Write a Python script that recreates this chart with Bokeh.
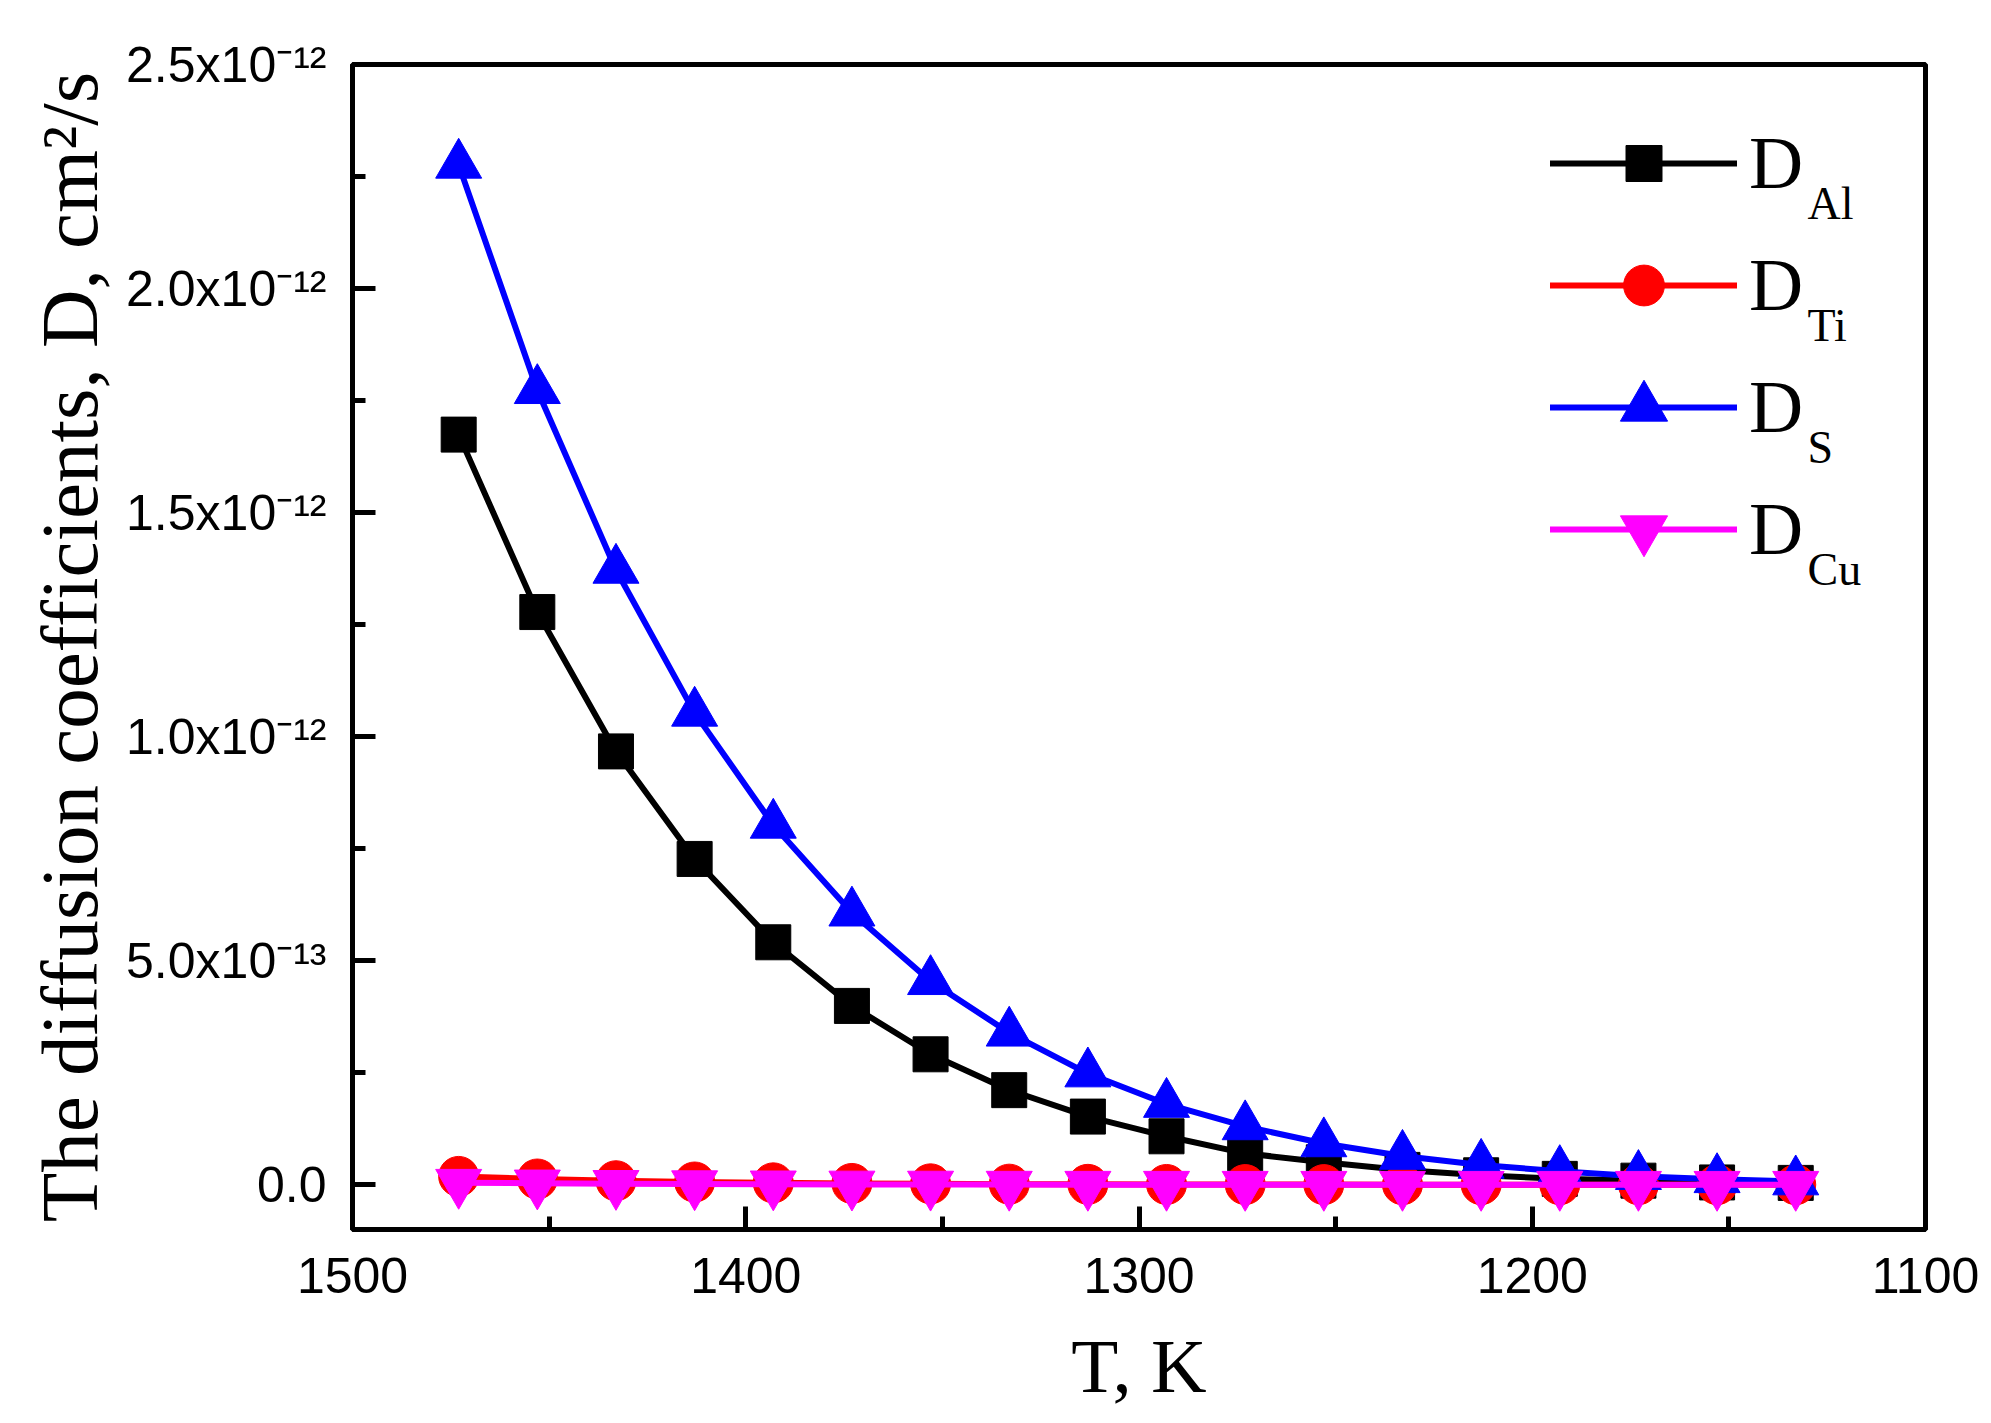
from bokeh.plotting import figure
from bokeh.models import Range1d, FixedTicker, Label, Legend, LegendItem, CustomJSTickFormatter
from bokeh.embed import file_html
from bokeh.resources import INLINE

# ---- data ----
T = [1473, 1453, 1433, 1413, 1393, 1373, 1353, 1333, 1313,
     1293, 1273, 1253, 1233, 1213, 1193, 1173, 1153, 1133]
E = 1e-12
D_Al = [1.674, 1.278, 0.967, 0.727, 0.541, 0.399, 0.291, 0.211, 0.152,
        0.108, 0.070, 0.050, 0.033, 0.021, 0.013, 0.009, 0.005, 0.004]
D_Ti = [0.0185, 0.0127, 0.0088, 0.0060, 0.0041, 0.0028, 0.0019, 0.0012, 0.0008,
        0.0005, 0.0003, 0.0002, 0.0001, 0.0001, 0.0, 0.0, 0.0, 0.0]
D_S = [2.276, 1.773, 1.372, 1.053, 0.803, 0.607, 0.454, 0.339, 0.248,
       0.180, 0.130, 0.092, 0.064, 0.044, 0.030, 0.019, 0.012, 0.007]
D_Cu = [0.0045, 0.0030, 0.0020, 0.0013, 0.0009, 0.0006, 0.0004, 0.0002, 0.0001,
        0.0001, 0.0, 0.0, 0.0, 0.0, 0.0, 0.0, 0.0, 0.0]

series_names = ["Al", "Ti", "S", "Cu"]
series_values = [D_Al, D_Ti, D_S, D_Cu]
series_colors = ["#000000", "#FF0000", "#0000FF", "#FF00FF"]
series_markers = ["square", "circle", "triangle", "inverted_triangle"]
series_sizes = [35, 40, 46, 46]

x_ticks = [1500, 1400, 1300, 1200, 1100]
x_minor = [1450, 1350, 1250, 1150]
y_ticks = [0.0, 5e-13, 1e-12, 1.5e-12, 2e-12, 2.5e-12]
y_minor = [2.5e-13, 7.5e-13, 1.25e-12, 1.75e-12, 2.25e-12]
y_tick_labels = ["0.0", "5.0x10\u207b\u00b9\u00b3", "1.0x10\u207b\u00b9\u00b2",
                 "1.5x10\u207b\u00b9\u00b2", "2.0x10\u207b\u00b9\u00b2", "2.5x10\u207b\u00b9\u00b2"]

x_title = "T, K"
y_title = "The diffusion coefficients, D, cm\u00b2/s"

SANS = "Liberation Sans"
SERIF = "Liberation Serif"

# ---- figure ----
W, H = 1985, 1418
FL, FT = 352, 64
FW, FH = 1573, 1165
FR = W - FL - FW
FB = H - FT - FH

p = figure(width=W, height=H, x_range=Range1d(1500, 1100), y_range=Range1d(-1e-13, 2.5e-12),
           output_backend="svg", toolbar_location=None,
           min_border_left=FL, min_border_right=FR, min_border_top=FT, min_border_bottom=FB)
p.background_fill_color = "white"
p.border_fill_color = "white"
p.xgrid.visible = False
p.ygrid.visible = False
p.outline_line_color = "black"
p.outline_line_width = 5

for ax in (p.xaxis[0], p.yaxis[0]):
    ax.axis_line_width = 5
    ax.axis_line_color = "black"
    ax.major_tick_line_width = 5
    ax.minor_tick_line_width = 5
    ax.major_tick_in = 23
    ax.major_tick_out = 0
    ax.minor_tick_in = 13
    ax.minor_tick_out = 0
    ax.major_label_text_font = SANS
    ax.major_label_text_font_size = "50px"
    ax.major_label_text_color = "black"
    ax.major_label_text_line_height = 1.0
    ax.axis_label_text_font = SERIF
    ax.axis_label_text_font_style = "normal"
    ax.axis_label_text_color = "black"
    ax.axis_label_text_line_height = 1.0

p.xaxis.ticker = FixedTicker(ticks=x_ticks, minor_ticks=x_minor)
p.xaxis.major_label_standoff = 28
p.xaxis.axis_label = x_title
p.xaxis.axis_label_text_font_size = "77px"
p.xaxis.axis_label_standoff = 27

p.yaxis.ticker = FixedTicker(ticks=y_ticks, minor_ticks=y_minor)
p.yaxis.formatter = CustomJSTickFormatter(
    args=dict(vals=y_ticks, labs=y_tick_labels),
    code="const i = vals.findIndex(v => Math.abs(v - tick) < 1e-16); return i >= 0 ? labs[i] : '';")
p.yaxis.major_label_standoff = 26
p.yaxis.axis_label = y_title
p.yaxis.axis_label_text_font_size = "81px"
p.yaxis.axis_label_standoff = 8

# ---- series ----
legend_rows = [1066, 944, 822, 700]  # row centres, px above the frame bottom
for name, vals, col, mk, sz, row in zip(series_names, series_values, series_colors,
                                         series_markers, series_sizes, legend_rows):
    yv = [v * E for v in vals]
    lr = p.line(T, yv, line_color=col, line_width=6, line_join="round", line_cap="round")
    sr = p.scatter(T, yv, marker=mk, size=sz, fill_color=col, line_color=col)
    gh = max(90, (sz + 1) / 0.4)
    leg = Legend(items=[LegendItem(label="D", renderers=[lr, sr])],
                 location=(1198, row - gh / 2), glyph_width=187, glyph_height=int(round(gh)),
                 label_standoff=12, padding=0, margin=0, spacing=0,
                 border_line_color=None, background_fill_alpha=0,
                 label_text_font=SERIF, label_text_font_size="75px",
                 label_text_color="black")
    p.add_layout(leg)
    p.add_layout(Label(x=1455, y=row - 40, x_units="screen", y_units="screen", text=name,
                       text_font=SERIF, text_font_size="46px", text_color="black",
                       text_align="left", text_baseline="alphabetic"))

open("out.html", "w").write(file_html(p, INLINE))
